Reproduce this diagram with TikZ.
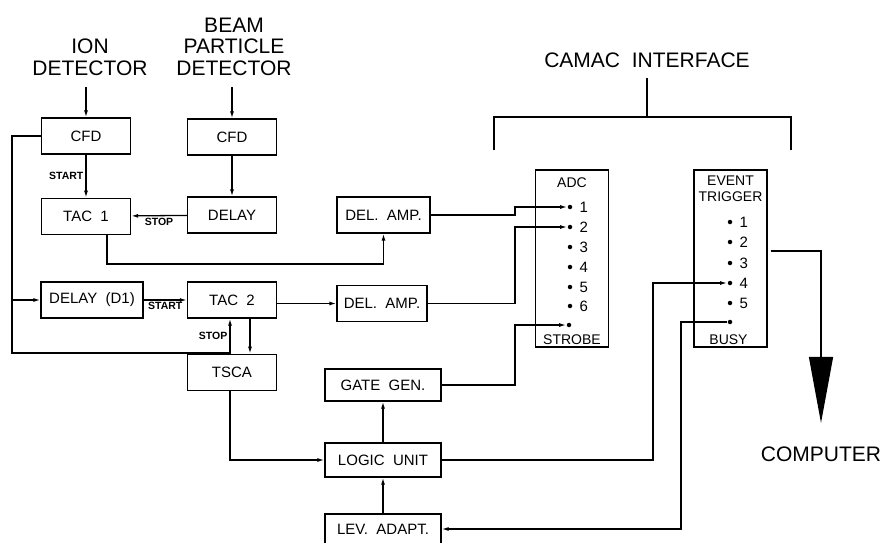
\documentclass[tikz,border=0pt]{standalone}
\usepackage{fontspec}
\setmainfont{Liberation Sans}
\usetikzlibrary{arrows.meta, positioning}
\tikzset{
  blk/.style={rectangle, draw, minimum height=36pt, align=center, font=\fontsize{15}{17}\selectfont, inner sep=2pt},
  crate/.style={rectangle, draw, minimum width=73pt, minimum height=177pt},
  title/.style={align=center, font=\fontsize{21}{21.5}\selectfont, inner sep=0pt},
  modlbl/.style={align=center, font=\fontsize{14}{16}\selectfont, inner sep=0pt},
  sig/.style={font=\fontsize{10.5}{12}\selectfont\bfseries, inner sep=2pt},
  pin/.style={circle, fill, inner sep=0pt, minimum size=4.5pt},
  pinlbl/.style={font=\fontsize{15}{17}\selectfont, inner sep=0pt, anchor=west},
  arr/.style={-{Latex[length=7pt,width=4pt]}},
}

\begin{document}
\begin{tikzpicture}[x=1pt, y=-1pt, line width=1.3pt]
\useasboundingbox (0,0) rectangle (887,542);
\node[title, anchor=south] (ion) at (90,76) {ION\\DETECTOR};
\node[title, anchor=south] (beam) at (234,76) {BEAM\\PARTICLE\\DETECTOR};
\node[title] (camac) at (647,60) {CAMAC~~INTERFACE};
\node[title] (comp) at (821,454) {COMPUTER};
\node[blk, minimum width=89pt] (cfdI) at (86,136) {CFD};
\node[blk, minimum width=89pt, below=43pt of cfdI] (tacI) {TAC~~1};
\node[blk, minimum width=89pt] (cfdB) at (232,137) {CFD};
\node[blk, minimum width=89pt] (dly) at (232,215) {DELAY};
\node[blk, minimum width=93pt] (ampI) at (383.5,215) {DEL.~~AMP.};
\node[blk, minimum width=102pt] (dlyD) at (92,300) {DELAY~~(D1)};
\node[blk, minimum width=89pt] (tacII) at (232,300) {TAC~~2};
\node[blk, minimum width=90pt] (ampII) at (382,303.5) {DEL.~~AMP.};
\node[blk, minimum width=89pt, below=35pt of tacII] (tsca) {TSCA};
\node[blk, minimum width=116pt, minimum height=32pt] (gate) at (383,385) {GATE~~GEN.};
\node[blk, minimum width=116pt, minimum height=34pt] (logic) at (383,460) {LOGIC~~UNIT};
\node[blk, minimum width=116pt, minimum height=30pt] (lev) at (383,529) {LEV.~~ADAPT.};
\node[crate] (adc) at (572,258.5) {};
\node[modlbl, below=8pt of adc.north] {ADC};
\node[modlbl, above=2pt of adc.south] {STROBE};
\foreach \i/\y in {1/207,2/227,3/247,4/267,5/287,6/306} {
  \node[pin] (a\i) at (570,\y) {};
  \node[pinlbl] at (579,\y) {\i};
}
\node[pin] (as) at (569,325) {};
\node[crate] (evt) at (730.5,258.5) {};
\node[modlbl, below=6pt of evt.north] {EVENT\\TRIGGER};
\node[modlbl, above=2pt of evt.south, xshift=-2pt] {BUSY};
\foreach \i/\y in {1/222,2/242,3/263,4/283,5/303} {
  \node[pin] (e\i) at (730,\y) {};
  \node[pinlbl] at (739,\y) {\i};
}
\node[pin] (eb) at (730,322) {};
\coordinate (ionOut) at ([yshift=-11pt]ion.south);
\coordinate (beamOut) at ([yshift=-11pt]beam.south);
\coordinate (rail) at (12,353);
\coordinate (jog) at (515,0);
\coordinate (jogE) at (653,0);
\coordinate (jogB) at (681,0);
\coordinate (brL) at (494,150);
\coordinate (brR) at (791,150);
\coordinate (brTop) at (0,117);
\draw[arr] (ionOut -| cfdI) -- (cfdI);
\draw[arr] (beamOut -| cfdB) -- (cfdB);
\draw[arr] (cfdI) -- node[sig, left]{START} (tacI);
\draw[arr] (cfdB) -- (dly);
\draw[arr] (dly) -- node[sig, below]{STOP} (tacI);
\draw[arr] ([xshift=21pt]tacI.south) -- ++(0,29) -| (ampI.south);
\draw[arr] (cfdI.west) -| (rail) -| node[sig, left, pos=0.75]{STOP} ([xshift=-2pt]tacII.south);
\draw[arr] (dlyD.west -| rail) -- (dlyD);
\draw[arr] (dlyD) -- node[sig, below]{START} (tacII);
\draw[arr] (tacII.east |- ampII) -- (ampII);
\draw[arr] ([xshift=18pt]tacII.south) -- ([xshift=18pt]tsca.north);
\draw[arr] ([xshift=-2pt]tsca.south) |- (logic);
\draw[arr] (logic) -- (gate);
\draw[arr] (lev) -- (logic);
\draw[arr] (ampI.east) -- (ampI.east -| jog) |- (a1);
\draw[arr] (ampII.east) -- (ampII.east -| jog) |- (a2);
\draw[arr] (gate.east) -- (gate.east -| jog) |- (as);
\draw[arr] (logic.east) -- (logic.east -| jogE) |- (e4);
\draw[arr] (eb) -- (eb -| jogB) |- (lev);
\draw[-{Triangle[length=66pt,width=24pt]}] ([xshift=3pt,yshift=7.5pt]evt.east) -| ([yshift=23pt]comp.north);
\draw ([yshift=-10pt]camac.south) -- (camac.south |- brTop);
\draw (brL) |- (camac.south |- brTop) -| (brR);
\end{tikzpicture}
\end{document}
